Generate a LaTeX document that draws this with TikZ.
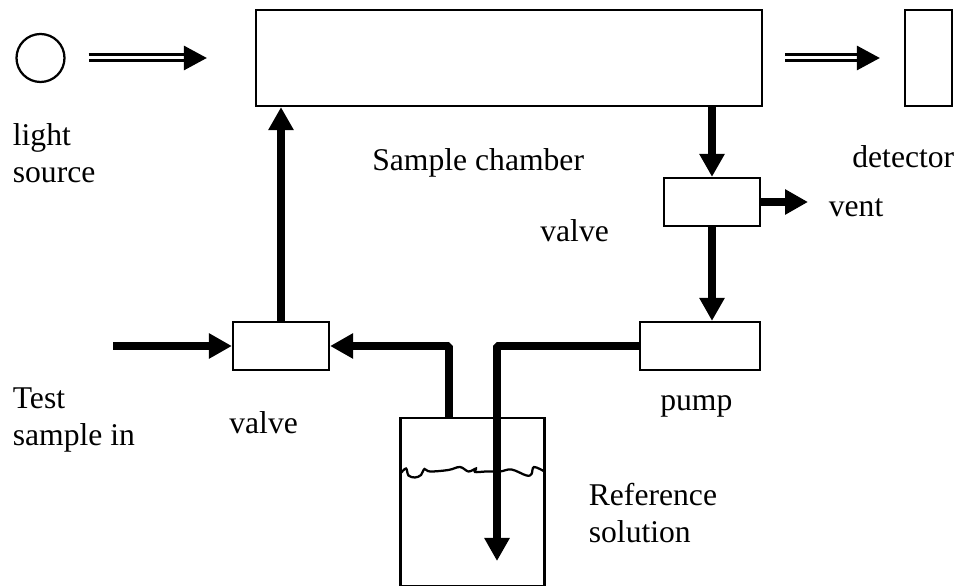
\documentclass[tikz,border=0pt]{standalone}
\usepackage{fontspec}
\setmainfont{Liberation Serif}
\usetikzlibrary{arrows.meta}
\tikzset{
  box/.style={draw,line width=0.045cm,inner sep=0pt},
  pipe/.style={line width=0.16cm,line join=bevel,-{Triangle[length=0.46cm,width=0.48cm]}},
  beam/.style={double,line width=0.06cm,double distance=0.06cm,-{Triangle[length=0.46cm,width=0.48cm]}},
  txt/.style={anchor=west,align=left,inner sep=0pt,font=\fontsize{18}{21.2}\selectfont}
}
\begin{document}
\begin{tikzpicture}
\useasboundingbox (0,0) rectangle (19.1,11.72);
%\draw[step=1cm,gray,very thin] (0,0) grid (19,11); %background grid

\node[box,circle,minimum size=0.96cm] (lamp) at (0.81,10.56) {};
\node[box,minimum width=10.12cm,minimum height=1.92cm] (chamber) at (10.18,10.56) {};
\node[box,minimum width=0.94cm,minimum height=1.92cm] (detector) at (18.57,10.56) {};
\node[box,minimum width=1.92cm,minimum height=0.96cm] (ventvalve) at (14.24,7.68) {};
\node[box,minimum width=2.4cm,minimum height=0.96cm] (pump) at (14,4.8) {};
\node[box,minimum width=1.92cm,minimum height=0.96cm] (inletvalve) at (5.62,4.8) {};
\node[box,minimum width=2.88cm,minimum height=3.36cm] (jar) at (9.45,1.68) {};

\coordinate (testin) at (2.26,4.8);
\coordinate (ventout) at (16.16,7.68);
\coordinate (dip) at (9.94,0.5);

\draw[beam,shorten <=0.46cm,shorten >=0.96cm] (lamp) -- (chamber);
\draw[beam,shorten <=0.44cm,shorten >=0.48cm] (chamber) -- (detector);

\draw[pipe] (chamber.south -| ventvalve) -- (ventvalve);
\draw[pipe] (ventvalve) -- (ventout);
\draw[pipe] (ventvalve) -- (ventvalve |- pump.north);
\draw[pipe] (inletvalve) -- (inletvalve |- chamber.south);
\draw[pipe] (testin) -- (inletvalve);
\draw[pipe] (jar.north -| 8.98,0) |- (inletvalve);
\draw[pipe] (pump) -| (dip);

\draw[line width=0.045cm] plot[smooth,tension=0.6] coordinates {(8.01,2.25) (8.12,2.35) (8.17,2.21) (8.30,2.17) (8.42,2.22) (8.49,2.34) (8.60,2.29) (8.97,2.32) (9.20,2.38) (9.37,2.29) (9.52,2.35) (9.50,2.28) (9.73,2.29) (10,2.29) (10.23,2.33) (10.53,2.21) (10.63,2.24) (10.68,2.38) (10.89,2.29)};

\node[txt] (lightlabel) at (0.25,8.66) {light\\source};
\node[txt] (chamberlabel) at (7.44,8.47) {Sample chamber};
\node[txt] (detectorlabel) at (17.04,8.58) {detector};
\node[txt] (ventlabel) at (16.57,7.57) {vent};
\node[txt] (valvelabel) at (10.8,7.1) {valve};
\node[txt] (testlabel) at (0.25,3.32) {Test\\sample in};
\node[txt] (inletlabel) at (4.58,3.26) {valve};
\node[txt] (pumplabel) at (13.2,3.6) {pump};
\node[txt] (jarlabel) at (11.77,1.46) {Reference\\solution};

\end{tikzpicture}
\end{document}
